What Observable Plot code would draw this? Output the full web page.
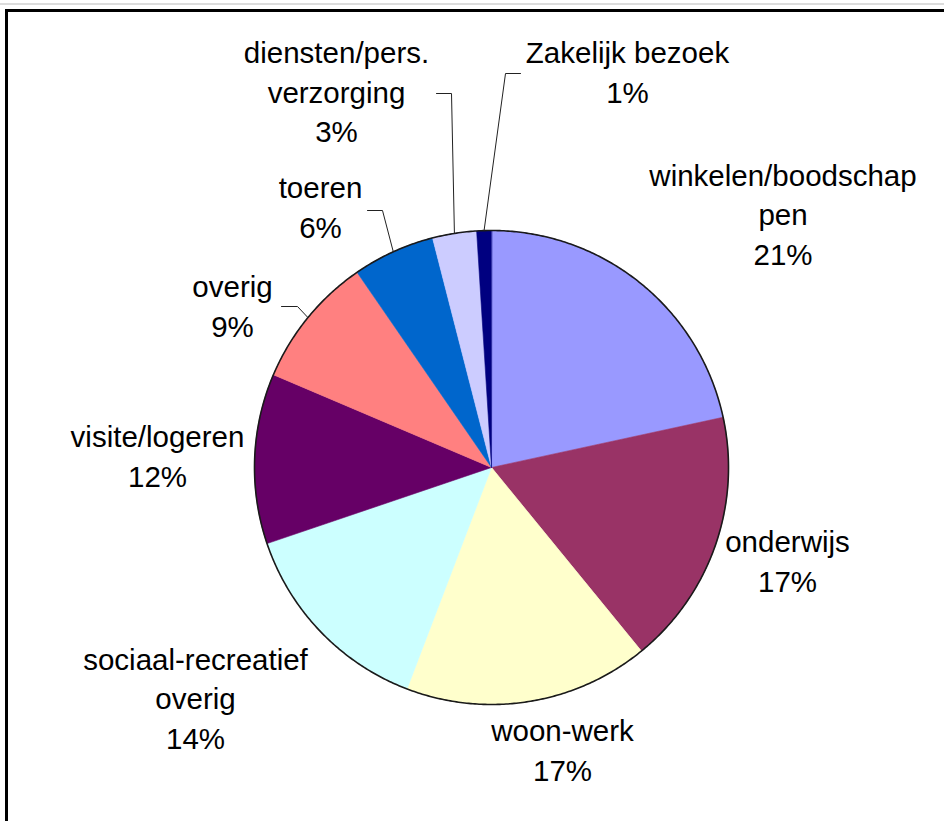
<!DOCTYPE html>
<html>
<head>
<meta charset="utf-8">
<script src="https://cdn.jsdelivr.net/npm/d3@7"></script>
<script src="https://cdn.jsdelivr.net/npm/@observablehq/plot@0.6"></script>
<style>
  html, body { margin: 0; padding: 0; background: #fff; overflow: hidden; width: 944px; height: 821px; }
  #chart { position: absolute; left: 0; top: 0; }
  #frame { position: absolute; left: 5px; top: 9px; width: 1000px; height: 1000px; border: 3px solid #000; box-sizing: border-box; pointer-events: none; }
  #topline { position: absolute; left: 0; top: 3px; width: 944px; height: 2px; background: #dcdcdc; }
</style>
</head>
<body>
<div id="chart"></div>
<div id="topline"></div>
<div id="frame"></div>
<script>
// ---- data ----
const categories = [
  "winkelen/boodschappen", "onderwijs", "woon-werk", "sociaal-recreatief overig",
  "visite/logeren", "overig", "toeren", "diensten/pers. verzorging", "Zakelijk bezoek"
];
const shares = [21.6, 17.5, 16.7, 14.0, 11.6, 9.0, 5.6, 3.0, 1.0];
const labelNames = [
  "winkelen/boodschap\npen", "onderwijs", "woon-werk", "sociaal-recreatief\noverig",
  "visite/logeren", "overig", "toeren", "diensten/pers.\nverzorging", "Zakelijk bezoek"
];
const shareLabels = ["21%", "17%", "17%", "14%", "12%", "9%", "6%", "3%", "1%"];
const colors = ["#9999FF", "#993366", "#FFFFCC", "#CCFFFF", "#660066", "#FF8080", "#0066CC", "#CCCCFF", "#000080"];

// ---- layout (pixels) ----
const W = 944, H = 821, cx = 491, cy = 467, R = 237;
const labelPos = [[782.5, 212], [787, 559], [562, 748], [195, 696], [157, 454], [232, 304], [320, 205], [336, 89.7], [627, 69.7]];
// leaders: index -> [label end, elbow]; the pie end is computed from slice mid-angle
const leaders = [
  [5, [281, 306], [297, 306]],
  [6, [367, 210], [382, 210]],
  [7, [436, 93], [451, 93]],
  [8, [520, 73], [505, 73]]
];

const ux = px => (px - cx) / R;
const uy = py => (cy - py) / R;

// ---- slices ----
const rows = [];
const mids = [];
let acc = 0;
categories.forEach((c, i) => {
  const a0 = acc / 100 * 2 * Math.PI;
  const a1 = (acc + shares[i]) / 100 * 2 * Math.PI;
  mids.push((a0 + a1) / 2);
  acc += shares[i];
  rows.push({cat: c, x: 0, y: 0});
  const n = Math.max(2, Math.ceil((a1 - a0) / (Math.PI / 360)));
  for (let k = 0; k <= n; k++) {
    const a = a0 + (a1 - a0) * k / n;
    rows.push({cat: c, x: Math.sin(a), y: Math.cos(a)});
  }
});

const circle = d3.range(0, 721).map(k => {
  const a = k / 720 * 2 * Math.PI;
  return {x: Math.sin(a), y: Math.cos(a)};
});

const labels = categories.map((c, i) => ({
  x: ux(labelPos[i][0]), y: uy(labelPos[i][1]),
  text: labelNames[i] + "\n" + shareLabels[i]
}));

const leaderRows = [];
leaders.forEach(([i, p0, p1]) => {
  leaderRows.push({id: i, x: ux(p0[0]), y: uy(p0[1])});
  leaderRows.push({id: i, x: ux(p1[0]), y: uy(p1[1])});
  leaderRows.push({id: i, x: Math.sin(mids[i]), y: Math.cos(mids[i])});
});

const plot = Plot.plot({
  width: W, height: H,
  margin: 0,
  x: {domain: [-1, 1], range: [cx - R, cx + R], axis: null},
  y: {domain: [-1, 1], range: [cy + R, cy - R], axis: null},
  color: {domain: categories, range: colors},
  style: {fontFamily: "'Liberation Sans', Arial, sans-serif", background: "transparent"},
  marks: [
    Plot.line(rows, {x: "x", y: "y", z: "cat", fill: "cat", stroke: "cat", strokeWidth: 0.6, curve: "linear-closed"}),
    Plot.line(circle, {x: "x", y: "y", stroke: "#1a1a1a", strokeWidth: 1.6}),
    Plot.line(leaderRows, {x: "x", y: "y", z: "id", stroke: "#222", strokeWidth: 1}),
    Plot.text(labels, {x: "x", y: "y", text: "text", fontSize: 29.5, lineHeight: 1.34, fill: "#000", textAnchor: "middle"})
  ]
});
document.getElementById("chart").appendChild(plot);
</script>
</body>
</html>
